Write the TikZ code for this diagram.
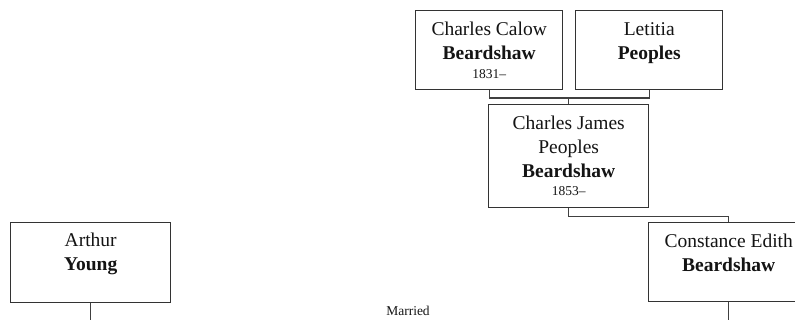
\documentclass[tikz,border=0pt]{standalone}
\usepackage{fontspec}
\setmainfont{Liberation Serif}
\usetikzlibrary{calc}
\begin{document}
\begin{tikzpicture}[x=1pt,y=-1pt,
  box/.style={draw=black!80, line width=1.4pt, fill=white, inner sep=0pt, anchor=north west},
  nametext/.style={anchor=north, align=center, inner sep=0pt, text=black!92, font=\fontsize{19.5}{24}\selectfont},
  smalltext/.style={font=\fontsize{13.5}{16}\selectfont, text=black!92, inner sep=0pt},
  link/.style={draw=black!75, line width=1.4pt}]
\clip (0,0) rectangle (795,320);
\useasboundingbox (0,0) rectangle (795,320);
\coordinate (bot) at (0,322);
% boxes
\node[box, minimum width=147pt, minimum height=79pt] (cc) at (415,10) {};
\node[box, minimum width=147pt, minimum height=79pt] (lp) at (575,10) {};
\node[box, minimum width=160pt, minimum height=103pt] (cj) at (488,104) {};
\node[box, minimum width=160pt, minimum height=79pt] (ce) at (648,222) {};
\node[box, minimum width=160pt, minimum height=80pt] (ay) at (10,222) {};
% texts
\node[nametext] (cct) at ([yshift=-12pt]cc.north) {Charles Calow\\\textbf{Beardshaw}\\[-5pt]{\fontsize{13.5}{16}\selectfont 1831–}};
\node[nametext] (lpt) at ([yshift=-12pt]lp.north) {Letitia\\\textbf{Peoples}};
\node[nametext] (cjt) at ([yshift=-12pt]cj.north) {Charles James\\Peoples\\\textbf{Beardshaw}\\[-6pt]{\fontsize{13.5}{16}\selectfont 1853–}};
\node[nametext] (cet) at ([yshift=-12pt]ce.north) {Constance Edith\\\textbf{Beardshaw}};
\node[nametext] (ayt) at ([yshift=-11pt]ay.north) {Arthur\\\textbf{Young}};
\node[smalltext] (m) at (408,311) {Married};
% connectors
\draw[link] (cc.south) -- ++(0,7.7) coordinate (j1) -| (lp.south);
\draw[link] (cj.north) -- (cj.north |- j1);
\draw[link] (cj.south) -- ++(0,8) -| (ce.north);
\draw[link] (ce.south) -- (ce.south |- bot);
\draw[link] (ay.south) -- (ay.south |- bot);
\end{tikzpicture}
\end{document}
